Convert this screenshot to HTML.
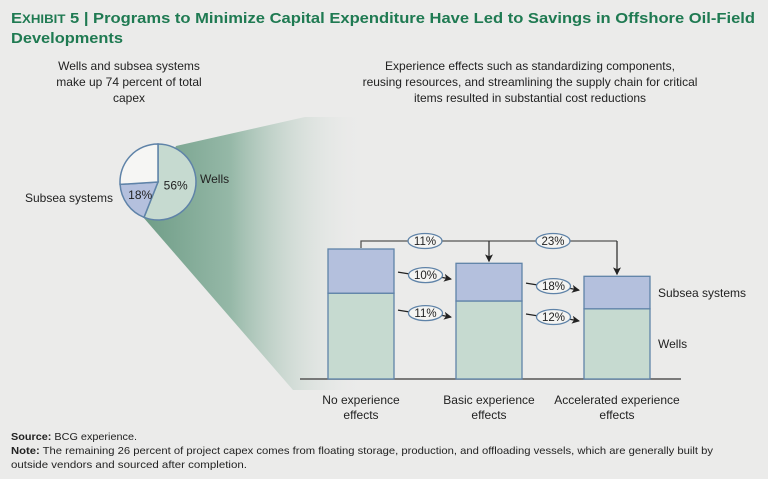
<!DOCTYPE html>
<html><head><meta charset="utf-8"><style>
html,body{margin:0;padding:0;background:#ebebea;}
svg{display:block;font-family:"Liberation Sans",sans-serif;}
</style></head><body>
<svg id="chart" width="768" height="479" viewBox="0 0 768 479" xmlns="http://www.w3.org/2000/svg">
<defs>
<linearGradient id="wedge" x1="140" y1="0" x2="365" y2="0" gradientUnits="userSpaceOnUse">
<stop offset="0" stop-color="#6e9c86"/><stop offset="0.4" stop-color="#95b8a7"/><stop offset="1" stop-color="#ebebea" stop-opacity="0"/>
</linearGradient>
<marker id="ah" markerWidth="8" markerHeight="8" refX="7" refY="4" orient="auto" markerUnits="userSpaceOnUse"><path d="M0,0 L8,4 L0,8 L2,4 Z" fill="#222"/></marker>
</defs>
<rect width="768" height="479" fill="#ebebea"/>
<text x="11" y="23" font-size="15" font-weight="bold" fill="#1f7a52" textLength="744" lengthAdjust="spacingAndGlyphs"><tspan font-size="15">E</tspan><tspan font-size="12">XHIBIT</tspan> 5 | Programs to Minimize Capital Expenditure Have Led to Savings in Offshore Oil-Field</text>
<text x="11" y="43" font-size="15" font-weight="bold" fill="#1f7a52" textLength="112" lengthAdjust="spacingAndGlyphs">Developments</text>
<g font-size="12" fill="#222" text-anchor="middle">
<text x="129" y="70">Wells and subsea systems</text><text x="129" y="86">make up 74 percent of total</text><text x="129" y="102">capex</text></g>
<g font-size="12" fill="#222" text-anchor="middle">
<text x="530" y="70">Experience effects such as standardizing components,</text><text x="530" y="86">reusing resources, and streamlining the supply chain for critical</text><text x="530" y="102">items resulted in substantial cost reductions</text></g>
<polygon points="176,146 305,117 365,117 365,390 293,390 143,217" fill="url(#wedge)"/>
<g id="pie"></g>
<g id="bars"></g>
<g font-size="12" fill="#222">
<text x="11" y="440" font-size="10.5" textLength="126" lengthAdjust="spacingAndGlyphs"><tspan font-weight="bold">Source:</tspan> BCG experience.</text>
<text x="11" y="454" font-size="10.5" textLength="702" lengthAdjust="spacingAndGlyphs"><tspan font-weight="bold">Note:</tspan> The remaining 26 percent of project capex comes from floating storage, production, and offloading vessels, which are generally built by</text>
<text x="11" y="468" font-size="10.5" textLength="236" lengthAdjust="spacingAndGlyphs">outside vendors and sourced after completion.</text>
</g>
</svg>
<script>
const NS="http://www.w3.org/2000/svg";
const pieLabels=["Wells","Subsea systems","Other"];
const pieValues=[56,18,26];
const barCategories=[["No experience","effects"],["Basic experience","effects"],["Accelerated experience","effects"]];
const wellsValues=[66,60,54];
const subseaValues=[34,29,25];
const stepPctSubsea=["10%","18%"];
const stepPctWells=["11%","12%"];
const totalPct=["11%","23%"];

function mk(tag,attrs,parent){const e=document.createElementNS(NS,tag);for(const k in attrs)e.setAttribute(k,attrs[k]);parent.appendChild(e);return e;}
const pie=document.getElementById('pie');
const cx=158,cy=182,r=38;
const pieFill=["#c6dad0","#b4c0dd","#f6f6f4"];
let a0=0;const tot=pieValues.reduce((a,b)=>a+b,0);
pieValues.forEach((v,i)=>{
  const a1=a0+v/tot*2*Math.PI;
  const x0=cx+r*Math.sin(a0),y0=cy-r*Math.cos(a0),x1=cx+r*Math.sin(a1),y1=cy-r*Math.cos(a1);
  const p=mk('path',{d:`M${cx},${cy} L${x0},${y0} A${r},${r} 0 ${a1-a0>Math.PI?1:0} 1 ${x1},${y1} Z`,fill:pieFill[i],stroke:"#5f83a8","stroke-width":1.5},pie);
  
  
  if(i<2){const am=(a0+a1)/2,lr=i==0?18:22;
    const t=mk('text',{x:cx+lr*Math.sin(am),y:cy-lr*Math.cos(am)+4,"font-size":12,"text-anchor":"middle",fill:"#222"},pie);t.textContent=v+"%";
    
    }
  a0=a1;
});
let t=mk('text',{x:200,y:183,"font-size":12,fill:"#222"},pie);t.textContent="Wells";


t=mk('text',{x:25,y:202,"font-size":12,fill:"#222"},pie);t.textContent="Subsea systems";



const g=document.getElementById('bars');
const base=379,scale=1.3,bw=66;
const xs=i=>328+i*128;
const y=v=>base-v*scale;
mk('line',{x1:300,y1:base,x2:681,y2:base,stroke:"#555","stroke-width":1.5},g);
barCategories.forEach((c,i)=>{
  const x=xs(i);
  const w=mk('rect',{x:x,y:y(wellsValues[i]),width:bw,height:wellsValues[i]*scale,fill:"#c6dad0",stroke:"#5f83a8","stroke-width":1.3},g);
  
  
  const s=mk('rect',{x:x,y:y(wellsValues[i]+subseaValues[i]),width:bw,height:subseaValues[i]*scale,fill:"#b4c0dd",stroke:"#5f83a8","stroke-width":1.3},g);
  
  
  c.forEach((ln,j)=>{const tt=mk('text',{x:x+bw/2,y:404+j*15,"font-size":12,"text-anchor":"middle",fill:"#222"},g);tt.textContent=ln;
    
    });
});
function badge(x,yy,txt,name){
  const e=mk('ellipse',{cx:x,cy:yy,rx:17,ry:7.5,fill:"#f4f4f2",stroke:"#5f83a8","stroke-width":1.3},g);
  
  
  const tt=mk('text',{x:x,y:yy+4,"font-size":11.5,"text-anchor":"middle",fill:"#222"},g);tt.textContent=txt;
  
  
}
for(let i=0;i<2;i++){
  const x0=xs(i)+bw+4,x1=xs(i+1)-5,mx=(x0+x1)/2;
  const ys=(y(wellsValues[i]+subseaValues[i])+y(wellsValues[i]))/2+4;
  const yw=(y(wellsValues[i])+base)/2-23;
  [[ys,stepPctSubsea[i],'subsea-reduction-'+(i+1)],[yw,stepPctWells[i],'wells-reduction-'+(i+1)]].forEach(([yy,txt,n])=>{
    mk('path',{d:`M${x0},${yy-3} L${mx-14},${yy-1}`,stroke:"#222","stroke-width":1.2,fill:"none"},g);
    mk('path',{d:`M${mx+16},${yy+2} L${x1},${yy+4}`,stroke:"#222","stroke-width":1.2,fill:"none","marker-end":"url(#ah)"},g);
    badge(mx+1,yy,txt,n);
  });
}
const by=241,c0=xs(0)+bw/2;
mk('path',{d:`M${c0},${y(wellsValues[0]+subseaValues[0])-1} L${c0},${by} L${xs(2)+bw/2},${by}`,stroke:"#555","stroke-width":1.3,fill:"none"},g);
[1,2].forEach(i=>{const cxx=xs(i)+bw/2;
  mk('line',{x1:cxx,y1:by,x2:cxx,y2:y(wellsValues[i]+subseaValues[i])-2,stroke:"#333","stroke-width":1.3,"marker-end":"url(#ah)"},g);
  badge((xs(i-1)+bw/2+cxx)/2,by,totalPct[i-1],'total-reduction-'+i);
});
t=mk('text',{x:658,y:297,"font-size":12,fill:"#222"},g);t.textContent="Subsea systems";


t=mk('text',{x:658,y:348,"font-size":12,fill:"#222"},g);t.textContent="Wells";


</script>
</body></html>
